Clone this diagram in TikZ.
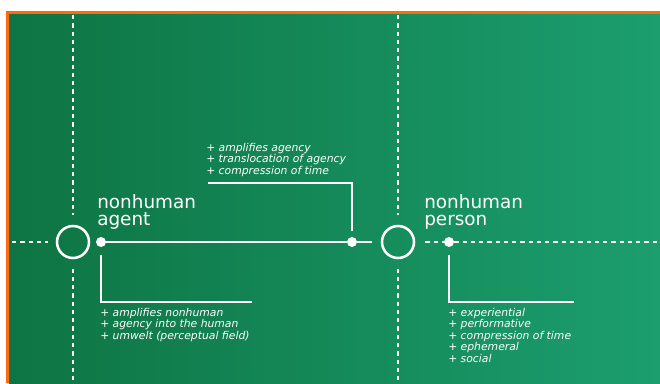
\documentclass[tikz,border=0pt]{standalone}
\usepackage{fontspec}
\setmainfont{DejaVu Sans}
\usetikzlibrary{positioning}
\definecolor{bgleft}{HTML}{0E7443}
\definecolor{bgright}{HTML}{1C9E6F}
\definecolor{frameorange}{HTML}{FF6A0D}

\begin{document}
\begin{tikzpicture}[x=0.75pt,y=-0.75pt]
    \tikzset{ring/.style={draw=white,circle,line width=1.9pt,minimum size=24pt,inner sep=0pt},
      dot/.style={fill=white,circle,minimum size=7.5pt,inner sep=0pt},
      wire/.style={draw=white,line width=1.5pt},
      dashline/.style={draw=white,line width=1.5pt,dash pattern=on 3.2pt off 3pt},
      title/.style={text=white,align=left,inner sep=0pt,anchor=base west,font=\fontsize{13.8}{12.75}\selectfont},
      notes/.style={text=white,align=left,inner sep=0pt,anchor=base west,font=\fontsize{8.1}{8.6}\selectfont\itshape}}
    % frame and background
    \useasboundingbox (0,0) rectangle (660,383);
    \fill[white] (0,0) rectangle (660,383);
    \fill[frameorange] (6,11) rectangle (660,383);
    \shade[left color=bgleft,right color=bgright] (9,14) rectangle (660,383);
    % the two poles
    \node[ring] (agent) at (73,242) {};
    \node[ring] (person) at (398,242) {};
    \node[dot] (a1) at (101,242) {};
    \node[dot] (a2) at (352,242) {};
    \node[dot] (p1) at (449,242) {};
    \coordinate (lstart) at (12,242);
    \coordinate (rend) at (660,242);
    \coordinate (atop) at (73,15);
    \coordinate (abot) at (73,383);
    \coordinate (ptop) at (398,15);
    \coordinate (pbot) at (398,383);
    \coordinate (up) at (208,183);
    \coordinate (downa) at (252,302);
    \coordinate (downp) at (574,302);
    % axes
    \draw[dashline,shorten >=6pt] (lstart) -- (agent);
    \draw[dashline,shorten >=7pt] (atop) -- (agent);
    \draw[dashline,shorten <=7pt] (agent) -- (abot);
    \draw[dashline,shorten >=7pt] (ptop) -- (person);
    \draw[dashline,shorten <=7pt] (person) -- (pbot);
    \draw[dashline,shorten <=7.5pt] (person) -- (p1);
    \draw[dashline] (p1) -- (rend);
    \draw[wire] (a1) -- (a2);
    \draw[wire,shorten >=6.5pt] (a2) -- (person);
    % brackets
    \draw[wire,shorten <=4pt] (a2) |- (up);
    \draw[wire,shorten <=6pt] (a1) |- (downa);
    \draw[wire,shorten <=6pt] (p1) |- (downp);
    % labels (base = last line)
    \node[title] (agentlabel) at (97,225) {nonhuman\\agent};
    \node[title] (personlabel) at (424,225) {nonhuman\\person};
    \node[notes] (midnotes) at (206,174) {+ amplifies agency\\+ translocation of agency\\+ compression of time};
    \node[notes] (agentnotes) at (100,339) {+ amplifies nonhuman\\+ agency into the human\\+ umwelt (perceptual field)};
    \node[notes] (personnotes) at (448,362) {+ experiential\\+ performative\\+ compression of time\\+ ephemeral\\+ social};
\end{tikzpicture}
\end{document}
